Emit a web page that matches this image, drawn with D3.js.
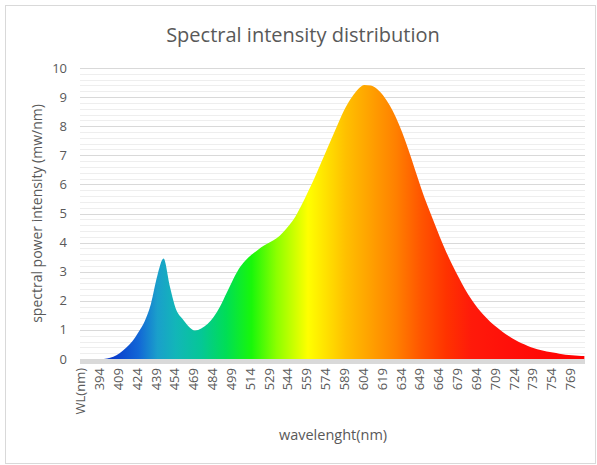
<!DOCTYPE html>
<html>
<head>
<meta charset="utf-8">
<script src="https://cdn.jsdelivr.net/npm/d3@7"></script>
<style>
  body { margin: 0; background: #fff; }
  text { font-family: "Open Sans", "Liberation Sans", sans-serif; fill: #595959; }
</style>
</head>
<body>
<div id="chart"></div>
<script>
// Data (wavelength nm, intensity mw/nm)
const wavelengths = d3.range(380, 781, 5);
const intensity = [
    0, 0, 0, 0, 0.02, 0.08, 0.2, 0.38, 0.6, 0.92,          // 380-425
    1.3, 1.9, 2.85, 3.45, 2.5, 1.7, 1.38, 1.12, 0.98, 1.05, // 430-475
    1.2, 1.45, 1.8, 2.25, 2.7, 3.1, 3.38, 3.58, 3.75, 3.9,  // 480-525
    4.02, 4.15, 4.35, 4.6, 4.9, 5.3, 5.75, 6.2, 6.7, 7.2,   // 530-575
    7.7, 8.2, 8.65, 9.0, 9.28, 9.42, 9.4, 9.28, 9.05, 8.72, // 580-625
    8.3, 7.78, 7.18, 6.53, 5.88, 5.28, 4.73, 4.18, 3.68, 3.22, // 630-675
    2.8, 2.4, 2.05, 1.75, 1.5, 1.28, 1.1, 0.93, 0.78, 0.65, // 680-725
    0.54, 0.45, 0.37, 0.31, 0.26, 0.22, 0.18, 0.15, 0.13, 0.11, // 730-775
    0.1                                                      // 780
];

// Category labels shown on the x axis (every 15th category)
const tickValues = [379].concat(d3.range(394, 780, 15));
const tickLabels = ["WL(nm)"].concat(d3.range(394, 780, 15).map(String));

const yTicks = d3.range(0, 11, 1);
const yMinorTicks = d3.range(0, 10.01, 0.2);

// Spectrum colours for the fill
const gradStops = [
    [380, "#0b2fc4"], [405, "#0a3ccc"], [425, "#1266d6"], [440, "#1a9fcb"],
    [455, "#12b6b8"], [475, "#05c796"], [495, "#00de55"], [515, "#18f70a"],
    [535, "#8cff00"], [560, "#ffff00"], [575, "#ffe000"], [590, "#ffc000"],
    [610, "#ffa000"], [630, "#ff8000"], [650, "#ff5500"], [670, "#ff3300"],
    [690, "#ff1a0a"], [720, "#ff100a"], [780, "#ff0000"]
];

const W = 597, H = 465;
const margin = { left: 80, right: 12, top: 68, bottom: 106 };

const svg = d3.select("#chart").append("svg")
    .attr("width", W)
    .attr("height", H);

// chart border
svg.append("rect")
    .attr("x", 5.5).attr("y", 5.5)
    .attr("width", W - 7).attr("height", H - 7)
    .attr("fill", "#fff")
    .attr("stroke", "#d9d9d9");

const x = d3.scaleLinear()
    .domain([378.5, 780.5])
    .range([margin.left, W - margin.right]);

const y = d3.scaleLinear()
    .domain([0, 10])
    .range([H - margin.bottom, margin.top]);

// gridlines
svg.append("g").selectAll("line.minor")
    .data(yMinorTicks.filter(d => Math.abs(d - Math.round(d)) > 0.01))
    .enter().append("line")
    .attr("x1", x.range()[0]).attr("x2", x.range()[1])
    .attr("y1", d => Math.round(y(d)) + 0.5).attr("y2", d => Math.round(y(d)) + 0.5)
    .attr("stroke", "#eeeeee");

svg.append("g").selectAll("line.major")
    .data(yTicks.filter(d => d > 0))
    .enter().append("line")
    .attr("x1", x.range()[0]).attr("x2", x.range()[1])
    .attr("y1", d => Math.round(y(d)) + 0.5).attr("y2", d => Math.round(y(d)) + 0.5)
    .attr("stroke", "#d9d9d9");

// gradient
const grad = svg.append("defs").append("linearGradient")
    .attr("id", "spectrum")
    .attr("gradientUnits", "userSpaceOnUse")
    .attr("x1", x(380)).attr("x2", x(780))
    .attr("y1", 0).attr("y2", 0);

grad.selectAll("stop")
    .data(gradStops)
    .enter().append("stop")
    .attr("offset", d => (d[0] - 380) / 400)
    .attr("stop-color", d => d[1]);

const area = d3.area()
    .x((d, i) => x(wavelengths[i]))
    .y0(y(0))
    .y1(d => y(d))
    .curve(d3.curveMonotoneX);

svg.append("path")
    .datum(intensity)
    .attr("d", area)
    .attr("fill", "url(#spectrum)");

// x axis line (thick light grey)
svg.append("rect")
    .attr("x", x.range()[0])
    .attr("y", y(0))
    .attr("width", x.range()[1] - x.range()[0])
    .attr("height", 5)
    .attr("fill", "#d9d9d9");

// y axis labels
svg.append("g").selectAll("text")
    .data(yTicks)
    .enter().append("text")
    .attr("x", 67)
    .attr("y", d => y(d))
    .attr("dy", "0.35em")
    .attr("text-anchor", "end")
    .attr("font-size", 13)
    .text(d => d);

// x axis labels
svg.append("g").selectAll("text")
    .data(tickValues)
    .enter().append("text")
    .attr("transform", d => `translate(${x(d)},${y(0) + 9}) rotate(-90)`)
    .attr("dy", "0.35em")
    .attr("text-anchor", "end")
    .attr("font-size", 13)
    .text((d, i) => tickLabels[i]);

// titles
svg.append("text")
    .attr("x", 303)
    .attr("y", 42)
    .attr("text-anchor", "middle")
    .attr("font-size", 20)
    .text("Spectral intensity distribution");

svg.append("text")
    .attr("x", 333)
    .attr("y", 440)
    .attr("text-anchor", "middle")
    .attr("font-size", 14.5)
    .text("wavelenght(nm)");

svg.append("text")
    .attr("transform", `translate(42,${(y(0) + y(10)) / 2}) rotate(-90)`)
    .attr("text-anchor", "middle")
    .attr("font-size", 14)
    .text("spectral power intensity (mw/nm)");
</script>
</body>
</html>
